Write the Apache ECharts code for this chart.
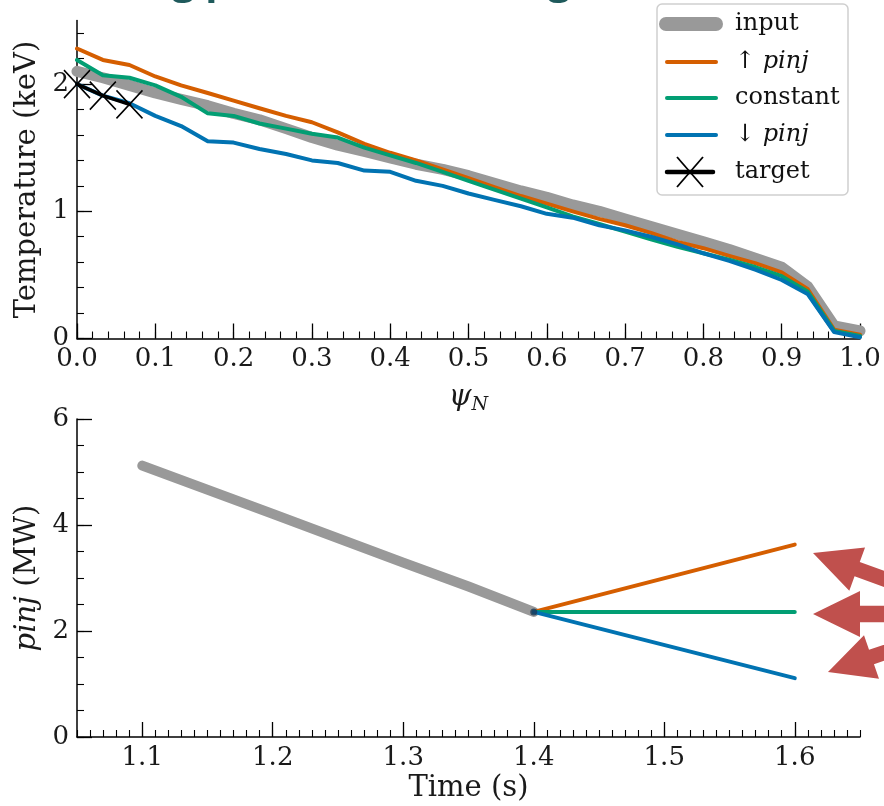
<!DOCTYPE html>
<html>
<head>
<meta charset="utf-8">
<script src="https://cdn.jsdelivr.net/npm/echarts@6/dist/echarts.min.js"></script>
<style>
  html, body { margin: 0; padding: 0; background: #ffffff; }
  #chart { width: 884px; height: 806px; }
</style>
</head>
<body>
<div id="chart"></div>
<script>
// ---- Temperature profiles versus normalised flux ----
const psiN = [0.000, 0.033, 0.067, 0.100, 0.133, 0.167, 0.200, 0.233, 0.267, 0.300,
              0.333, 0.367, 0.400, 0.433, 0.467, 0.500, 0.533, 0.567, 0.600, 0.633,
              0.667, 0.700, 0.733, 0.767, 0.800, 0.833, 0.867, 0.900, 0.933, 0.967, 1.000];
const tempInput = [2.10, 2.05, 1.99, 1.93, 1.88, 1.83, 1.77, 1.72, 1.65, 1.58,
                   1.52, 1.47, 1.42, 1.37, 1.33, 1.28, 1.22, 1.16, 1.11, 1.05,
                   1.00, 0.94, 0.88, 0.82, 0.76, 0.70, 0.63, 0.56, 0.41, 0.10, 0.06];
const tempUp = [2.28, 2.19, 2.15, 2.06, 1.99, 1.93, 1.87, 1.81, 1.75, 1.70,
                1.62, 1.53, 1.46, 1.40, 1.33, 1.26, 1.19, 1.12, 1.06, 1.00,
                0.94, 0.89, 0.83, 0.76, 0.71, 0.65, 0.59, 0.52, 0.39, 0.07, 0.03];
const tempConst = [2.19, 2.07, 2.05, 1.99, 1.90, 1.77, 1.75, 1.69, 1.65, 1.61,
                   1.58, 1.50, 1.44, 1.38, 1.31, 1.24, 1.17, 1.10, 1.03, 0.96,
                   0.90, 0.84, 0.78, 0.72, 0.67, 0.62, 0.56, 0.49, 0.37, 0.06, 0.02];
const tempDown = [2.00, 1.91, 1.85, 1.75, 1.67, 1.55, 1.54, 1.49, 1.45, 1.40,
                  1.38, 1.32, 1.31, 1.24, 1.20, 1.14, 1.09, 1.04, 0.98, 0.95,
                  0.89, 0.85, 0.80, 0.74, 0.67, 0.61, 0.54, 0.46, 0.35, 0.05, 0.01];
const targetPsi = [0.000, 0.033, 0.067];
const targetTemp = [2.00, 1.91, 1.84];

// ---- Injected power versus time ----
const timeInput = [1.10, 1.20, 1.30, 1.35, 1.40];
const pinjInput = [5.12, 4.21, 3.29, 2.84, 2.36];
const timeBranch = [1.40, 1.60];
const pinjUp = [2.36, 3.63];
const pinjConst = [2.36, 2.36];
const pinjDown = [2.36, 1.11];

// ---- Tick labels ----
const psiTicks = [0.0, 0.1, 0.2, 0.3, 0.4, 0.5, 0.6, 0.7, 0.8, 0.9, 1.0];
const tempTicks = [0, 1, 2];
const timeTicks = [1.1, 1.2, 1.3, 1.4, 1.5, 1.6];
const pinjTicks = [0, 2, 4, 6];

const COLORS = { input: '#999999', up: '#d55e00', flat: '#029e73', down: '#0173b2', target: '#000000' };
const FONT = 'DejaVu Serif';

function steps(from, to, step) {
  const out = [];
  for (let v = from; v <= to + 1e-9; v += step) out.push(Math.round(v * 1000) / 1000);
  return out;
}
const pairs = (xs, ys) => xs.map((x, i) => [x, ys[i]]);

function majorAxis(gridIndex, min, max, ticks, fmt, pos, extra) {
  return Object.assign({
    type: 'value', gridIndex, min, max, position: pos,
    splitLine: { show: false },
    axisLine: { show: true, onZero: false, lineStyle: { color: '#000', width: 1.5 } },
    axisTick: { show: true, inside: true, length: 15, customValues: ticks, lineStyle: { color: '#000', width: 1.3 } },
    axisLabel: { show: true, customValues: ticks, formatter: fmt, fontFamily: FONT, fontSize: 26, color: '#1a1a1a', margin: 8 },
    minorTick: { show: false }
  }, extra || {});
}
function minorAxis(gridIndex, min, max, ticks, pos) {
  return {
    type: 'value', gridIndex, min, max, position: pos, offset: 0,
    splitLine: { show: false },
    axisLine: { show: false },
    axisLabel: { show: false },
    axisTick: { show: true, inside: true, length: 7, customValues: ticks, lineStyle: { color: '#000', width: 1.1 } }
  };
}
const nameStyle = { fontFamily: FONT, fontSize: 29, color: '#1a1a1a' };
const mathRich = {
  m: { fontFamily: FONT, fontStyle: 'italic', fontSize: 29, color: '#1a1a1a' },
  s: { fontFamily: FONT, fontStyle: 'italic', fontSize: 19, color: '#1a1a1a', padding: [15, 0, 0, 0] }
};

function lineSeries(name, x, y, xi, yi, color, width, z) {
  return {
    name, type: 'line', xAxisIndex: xi, yAxisIndex: yi, data: pairs(x, y),
    symbol: 'none', showSymbol: false, silent: true, z: z,
    lineStyle: { color, width, cap: 'round', join: 'round' }
  };
}

// Block arrow pointing at (tipX, tipY), shaft running away at angleDeg
function arrowPoints(tipX, tipY, angleDeg, headLen, headHalf, shaftHalf, totalLen) {
  const a = angleDeg * Math.PI / 180;
  const ux = Math.cos(a), uy = Math.sin(a);
  const nx = -uy, ny = ux;
  const bx = tipX + ux * headLen, by = tipY + uy * headLen;
  const ex = tipX + ux * totalLen, ey = tipY + uy * totalLen;
  return [
    [tipX, tipY],
    [bx - nx * headHalf, by - ny * headHalf],
    [bx - nx * shaftHalf, by - ny * shaftHalf],
    [ex - nx * shaftHalf, ey - ny * shaftHalf],
    [ex + nx * shaftHalf, ey + ny * shaftHalf],
    [bx + nx * shaftHalf, by + ny * shaftHalf],
    [bx + nx * headHalf, by + ny * headHalf]
  ];
}

const legendText = (text, y) => ({
  type: 'text', z: 102, x: 735, y,
  style: { text, fontFamily: FONT, fontSize: 24, fill: '#111', verticalAlign: 'middle',
           rich: { m: { fontFamily: FONT, fontStyle: 'italic', fontSize: 24, fill: '#111' } } }
});
const legendLine = (y, color, width, x1, x2) => ({
  type: 'line', z: 102, shape: { x1, y1: y, x2, y2: y },
  style: { stroke: color, lineWidth: width, lineCap: 'round' }
});

const chart = echarts.init(document.getElementById('chart'), null, { renderer: 'canvas' });
chart.setOption({
  animation: false,
  backgroundColor: '#ffffff',
  grid: [
    { left: 77, top: 20.5, width: 783, height: 318, containLabel: false },
    { left: 77, top: 419, width: 783, height: 318, containLabel: false }
  ],
  xAxis: [
    majorAxis(0, 0, 1, psiTicks, v => v.toFixed(1), 'bottom', {
      name: '{m|ψ}{s|N}', nameLocation: 'middle', nameGap: 42,
      nameTextStyle: Object.assign({ rich: mathRich }, nameStyle)
    }),
    minorAxis(0, 0, 1, steps(0, 1, 0.02), 'bottom'),
    majorAxis(1, 1.05, 1.65, timeTicks, v => v.toFixed(1), 'bottom', {
      name: 'Time (s)', nameLocation: 'middle', nameGap: 37, nameTextStyle: nameStyle
    }),
    minorAxis(1, 1.05, 1.65, steps(1.05, 1.65, 0.01), 'bottom')
  ],
  yAxis: [
    majorAxis(0, 0, 2.5, tempTicks, v => String(v), 'left', {
      name: 'Temperature (keV)', nameLocation: 'middle', nameGap: 33, nameTextStyle: nameStyle
    }),
    minorAxis(0, 0, 2.5, steps(0, 2.5, 0.2), 'left'),
    majorAxis(1, 0, 6, pinjTicks, v => String(v), 'left', {
      name: '{m|pinj} (MW)', nameLocation: 'middle', nameGap: 33,
      nameTextStyle: Object.assign({ rich: mathRich }, nameStyle)
    }),
    minorAxis(1, 0, 6, steps(0, 6, 0.5), 'left')
  ],
  series: [
    lineSeries('input', psiN, tempInput, 0, 0, COLORS.input, 11, 2),
    lineSeries('↑ pinj', psiN, tempUp, 0, 0, COLORS.up, 4, 3),
    lineSeries('constant', psiN, tempConst, 0, 0, COLORS.flat, 4, 3),
    lineSeries('↓ pinj', psiN, tempDown, 0, 0, COLORS.down, 4, 3),
    {
      name: 'target', type: 'line', xAxisIndex: 0, yAxisIndex: 0, z: 4, silent: true,
      data: pairs(targetPsi, targetTemp),
      showSymbol: true, symbol: 'path://M0 0L10 10M10 0L0 10', symbolSize: [26, 28],
      itemStyle: { color: '#000', borderColor: '#000', borderWidth: 1.6 },
      lineStyle: { color: COLORS.target, width: 3.5, cap: 'round', join: 'round' }
    },
    lineSeries('input', timeInput, pinjInput, 2, 2, COLORS.input, 10, 2),
    lineSeries('↑ pinj', timeBranch, pinjUp, 2, 2, COLORS.up, 4, 3),
    lineSeries('constant', timeBranch, pinjConst, 2, 2, COLORS.flat, 4, 3),
    lineSeries('↓ pinj', timeBranch, pinjDown, 2, 2, COLORS.down, 4, 3),
    {
      type: 'scatter', xAxisIndex: 2, yAxisIndex: 2, z: 5, silent: true,
      data: [[timeBranch[0], pinjConst[0]]], symbolSize: 7,
      itemStyle: { color: '#1b3a58' }
    }
  ],
  graphic: [
    // slide heading (mostly above the visible area)
    { type: 'text', x: 58, y: -37, z: 50,
      style: { text: 'Tuning power for the target', fontFamily: 'Open Sans', fontWeight: 'bold',
               fontSize: 40, fill: '#1f5a5c' } },
    // legend
    { type: 'rect', z: 101, shape: { x: 657, y: 4, width: 191, height: 191, r: 5 },
      style: { fill: 'rgba(255,255,255,0.85)', stroke: '#cfcfcf', lineWidth: 1.5 } },
    legendLine(24, COLORS.input, 14, 666, 716),
    legendText('input', 24),
    legendLine(62, COLORS.up, 4, 667, 716),
    legendText('↑ {m|pinj}', 62),
    legendLine(98, COLORS.flat, 4, 667, 716),
    legendText('constant', 98),
    legendLine(135, COLORS.down, 4, 667, 716),
    legendText('↓ {m|pinj}', 135),
    legendLine(172, COLORS.target, 4.5, 667, 713),
    { type: 'line', z: 103, shape: { x1: 677, y1: 157, x2: 703, y2: 187 }, style: { stroke: '#000', lineWidth: 1.8 } },
    { type: 'line', z: 103, shape: { x1: 703, y1: 157, x2: 677, y2: 187 }, style: { stroke: '#000', lineWidth: 1.8 } },
    legendText('target', 172),
    // pointer arrows at the right edge
    { type: 'polygon', z: 60, shape: { points: arrowPoints(813, 553, 20, 47, 23, 7.6, 140) }, style: { fill: '#c0504d' } },
    { type: 'polygon', z: 60, shape: { points: arrowPoints(813, 614, 0, 47, 23, 8.2, 140) }, style: { fill: '#c0504d' } },
    { type: 'polygon', z: 60, shape: { points: arrowPoints(828, 672, -19, 46, 23, 7.6, 140) }, style: { fill: '#c0504d' } }
  ]
});
</script>
</body>
</html>
